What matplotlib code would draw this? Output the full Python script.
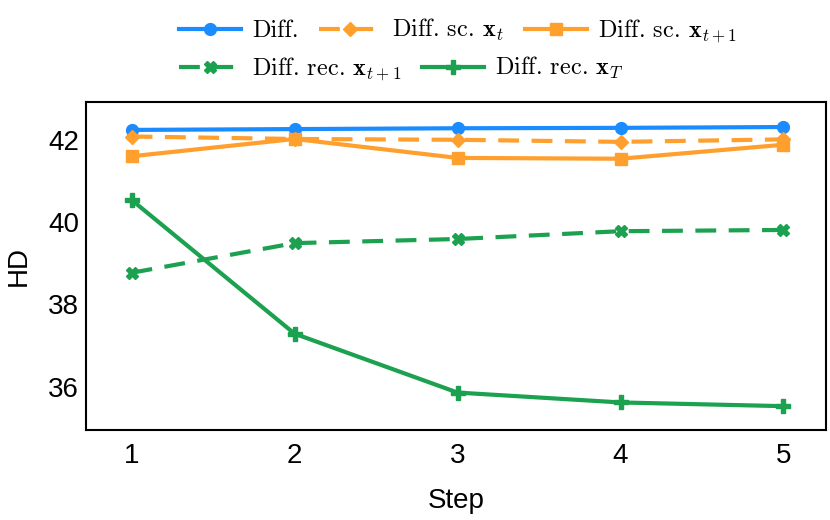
import matplotlib
matplotlib.use("Agg")
import matplotlib.pyplot as plt

# data
steps = [1, 2, 3, 4, 5]
diff = [42.24, 42.26, 42.28, 42.29, 42.31]
diff_sc_xt = [42.08, 42.02, 42.00, 41.95, 42.01]
diff_sc_xt1 = [41.60, 42.02, 41.56, 41.54, 41.88]
diff_rec_xt1 = [38.77, 39.49, 39.59, 39.78, 39.81]
diff_rec_xT = [40.54, 37.29, 35.86, 35.62, 35.53]

labels = ['Diff.',
          r'Diff. sc. $\mathbf{x}_t$',
          r'Diff. sc. $\mathbf{x}_{t+1}$',
          r'Diff. rec. $\mathbf{x}_{t+1}$',
          r'Diff. rec. $\mathbf{x}_T$']

blue = '#1A8CFF'
orange = '#FF9F2E'
green = '#1BA14F'

plt.rcParams['font.family'] = ['Liberation Sans', 'DejaVu Sans']
plt.rcParams['mathtext.fontset'] = 'cm'

fig = plt.figure(figsize=(8.3, 5.2), dpi=100)
ax = fig.add_axes([0.1036, 0.173, 0.8914, 0.631])

dash = (0, (5, 3))
lw = 3
h1, = ax.plot(steps, diff, color=blue, lw=lw, marker='o', ms=8.5)
h2, = ax.plot(steps, diff_sc_xt, color=orange, lw=lw, ls=dash, marker='D', ms=7)
h3, = ax.plot(steps, diff_sc_xt1, color=orange, lw=lw, marker='s', ms=9)
h4, = ax.plot(steps, diff_rec_xt1, color=green, lw=lw, ls=dash, marker='X', ms=9)
h5, = ax.plot(steps, diff_rec_xT, color=green, lw=lw, marker='P', ms=9.5)

ax.set_xlim(0.72, 5.26)
ax.set_ylim(34.95, 42.92)
ax.set_xticks(steps)
ax.set_yticks([36, 38, 40, 42])
ax.tick_params(length=0, labelsize=20)
ax.tick_params(axis='x', pad=9)
ax.tick_params(axis='y', pad=5)
for s in ax.spines.values():
    s.set_linewidth(1.5)
    s.set_color('black')

ax.set_xlabel('Step', fontsize=20, labelpad=14)
ax.set_ylabel('HD', fontsize=20, labelpad=12)

leg_kw = dict(frameon=False, prop={'family': 'cmr10', 'size': 17.5},
              handlelength=2.55, handletextpad=0.46,
              columnspacing=0.85, borderpad=0, borderaxespad=0, numpoints=1)
leg1 = fig.legend([h1, h2, h3], labels[:3], ncol=3, loc='center left',
                  bbox_to_anchor=(179 / 830, 1 - 31 / 520), **leg_kw)
leg2 = fig.legend([h4, h5], labels[3:], ncol=2, loc='center left',
                  bbox_to_anchor=(179 / 830, 1 - 69 / 520), **leg_kw)

fig.savefig('out.png', dpi=100)
